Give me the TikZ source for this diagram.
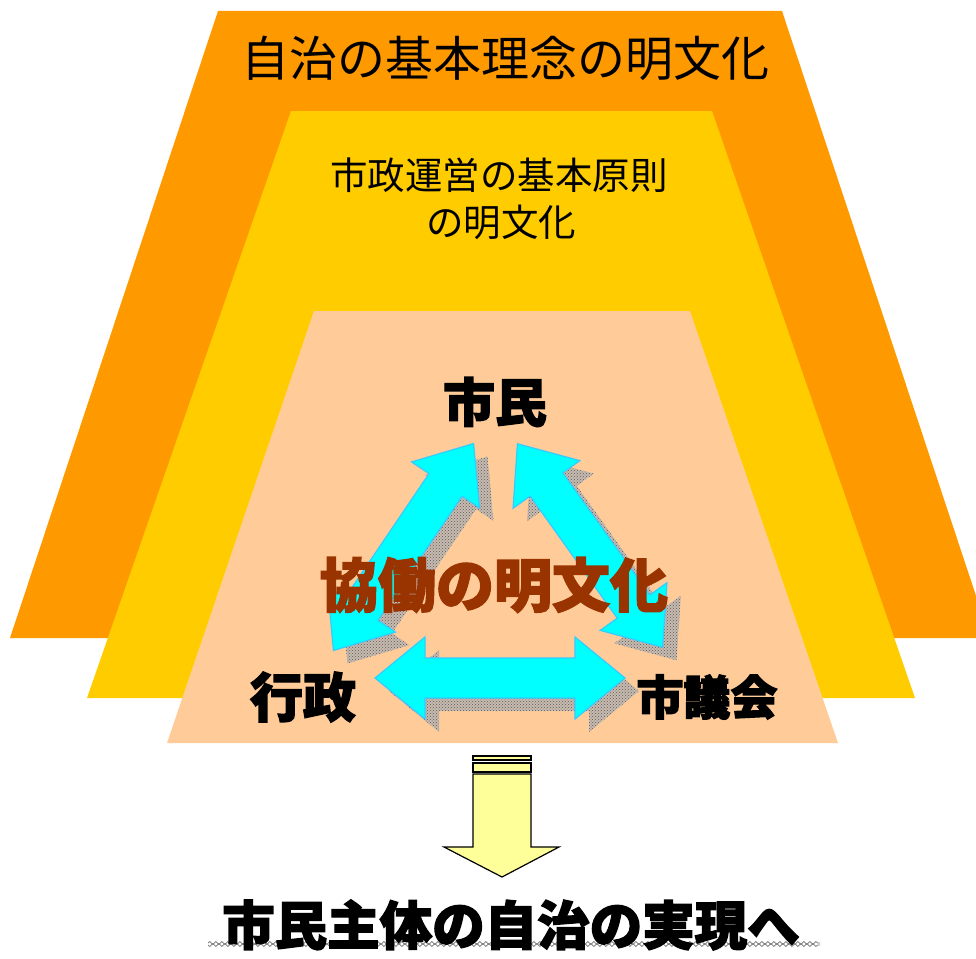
\documentclass[tikz,border=0pt]{standalone}
\usepackage{fontspec}
\setmainfont{Noto Sans CJK JP}
\newfontfamily\popfont{Noto Sans CJK JP}[BoldFeatures={FakeBold=2.5}]
\usetikzlibrary{patterns,decorations.pathmorphing}
\definecolor{orng}{HTML}{FF9900}
\definecolor{yllw}{HTML}{FFCC00}
\definecolor{peach}{HTML}{FFCC99}
\definecolor{cyanfill}{HTML}{00FFFF}
\definecolor{cyanline}{HTML}{33CCFF}
\definecolor{brwn}{HTML}{993300}
\definecolor{paleyellow}{HTML}{FFFF99}
\definecolor{shadowbase}{HTML}{C8BBB0}
\newcommand\dblarrowpath{(-125,0) -- (-75,41) -- (-75,20) -- (75,20) -- (75,41) -- (125,0) -- (75,-41) -- (75,-20) -- (-75,-20) -- (-75,-41) -- cycle}
\tikzset{
  cyanarrow/.style={fill=cyanfill, draw=cyanline, line width=1.2pt, line join=miter},
  shadowbasestyle/.style={fill=shadowbase},
  shadowarrow/.style={pattern=crosshatch dots, pattern color=black!65},
  plaintext/.style={inner sep=0pt, font=\fontsize{#1}{#1}\selectfont},
  poptext/.style={inner sep=0pt, font=\popfont\bfseries\fontsize{#1}{#1}\selectfont},
}
\begin{document}
\begin{tikzpicture}[x=1pt,y=-1pt]
\useasboundingbox (0,0) rectangle (976,958);
\clip (0,0) rectangle (976,958);
% trapezoids
\fill[orng] (218,11) -- (782,11) -- (990,638) -- (10,638) -- cycle;
\fill[yllw] (291,111) -- (712,111) -- (915,698) -- (87,698) -- cycle;
\fill[peach] (314,311) -- (690,311) -- (838,743) -- (167,743) -- cycle;
% texts
\node[plaintext=48] (t1) at (505,58) {自治の基本理念の明文化};
\node[plaintext=37.5] (t2) at (499,175) {市政運営の基本原則};
\node[plaintext=37.5] (t3) at (501,222) {の明文化};
% named anchor points
\node[poptext=52] (shimin) at (495,402) {市民};
\node[poptext=53] (gyosei) at (303,697) {行政};
\node[poptext=47] (gikai) at (707,697) {市議会};
\coordinate (cL) at (403.5,547);
\coordinate (cR) at (590,545.5);
\coordinate (cH) at (500,678);
% shadows
\foreach \st in {shadowbasestyle, shadowarrow} {
  \path[\st, shift={(417.5,560)}, rotate=55.9] \dblarrowpath;
  \path[\st, shift={(604,558.5)}, rotate=-54.5] \dblarrowpath;
  \path[\st, shift={(514,691)}] \dblarrowpath;
}
% arrows
\path[cyanarrow, shift={(cL)}, rotate=55.9] \dblarrowpath;
\path[cyanarrow, shift={(cR)}, rotate=-54.5] \dblarrowpath;
\path[cyanarrow, shift={(cH)}] \dblarrowpath;
\node[poptext=58, text=brwn] (kyodo) at (494,585) {協働の明文化};
% down arrow
\draw[fill=paleyellow, line width=1.2pt] (473,756) rectangle (531,760);
\draw[fill=paleyellow, line width=1.2pt] (473,763) rectangle (531,772);
\draw[fill=paleyellow, line width=1.2pt, line join=miter] (473,774) -- (531,774) -- (531,847) -- (559,847) -- (502,877) -- (444,847) -- (473,847) -- cycle;
% bottom text
\draw[black!55, line width=0.7pt, decorate, decoration={snake, segment length=6pt, amplitude=1.5pt}] (208,943) -- (820,943);
\draw[black!55, line width=0.7pt, decorate, decoration={snake, segment length=6pt, amplitude=1.5pt, mirror}] (208,945) -- (820,945);
\node[poptext=52.5] (goal) at (511,925) {市民主体の自治の実現へ};
\end{tikzpicture}
\end{document}
